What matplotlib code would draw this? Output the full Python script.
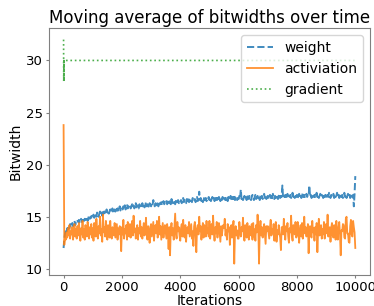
"""Moving average of bitwidths over time (weight / activation / gradient)."""

import numpy as np
import matplotlib
matplotlib.use("Agg")
import matplotlib.pyplot as plt

# iterations sampled every 25 steps, 0..10000
iters = np.arange(0, 10001, 25)

weight_bits = [
    12.0, 12.9, 13.4, 13.7, 13.5, 13.9, 13.8, 14.1, 13.9, 14.3, 14.0, 14.2, 14.4, 14.1, 14.3, 14.6, 14.2, 14.5, 14.4, 14.6,
    14.5, 14.7, 14.4, 14.6, 14.8, 14.5, 14.7, 14.9, 14.6, 14.8, 14.7, 15.0, 14.8, 14.6, 14.9, 15.1, 14.8, 15.0, 14.9, 15.2,
    15.0, 15.2, 14.9, 15.3, 15.1, 15.0, 15.4, 15.2, 15.0, 15.3, 15.5, 15.2, 15.4, 15.1, 15.6, 15.3, 15.5, 15.2, 15.4, 15.7,
    15.4, 15.6, 15.3, 15.5, 15.7, 15.4, 15.6, 15.8, 15.5, 15.3, 15.7, 15.5, 15.9, 15.6, 15.8, 15.5, 15.7, 16.0, 15.6, 15.8,
    15.9, 15.7, 16.0, 15.8, 16.1, 15.7, 15.9, 16.2, 15.8, 16.0, 15.9, 16.1, 15.8, 16.0, 16.2, 15.9, 16.1, 15.8, 16.0, 16.3,
    15.9, 16.1, 16.0, 15.8, 16.2, 16.0, 16.1, 15.9, 16.3, 16.0, 16.2, 15.9, 16.1, 16.4, 16.0, 16.2, 16.1, 15.9, 16.3, 16.1,
    16.0, 16.3, 16.1, 16.6, 16.2, 16.0, 16.3, 16.1, 16.4, 16.2, 16.0, 16.3, 16.5, 16.2, 16.4, 16.1, 16.3, 16.5, 16.2, 16.4,
    16.3, 16.5, 16.2, 16.4, 16.6, 16.3, 16.5, 16.2, 16.7, 16.4, 16.3, 16.6, 16.4, 16.2, 16.5, 16.7, 16.4, 16.6, 16.3, 16.5,
    16.4, 16.6, 16.3, 16.5, 16.8, 16.4, 16.6, 16.5, 16.3, 16.7, 16.5, 16.8, 16.4, 16.6, 16.5, 16.7, 16.4, 16.8, 16.6, 16.5,
    16.7, 16.4, 16.6, 16.9, 16.5, 16.7, 17.4, 16.6, 16.8, 16.5, 16.7, 16.4, 16.6, 16.9, 16.6, 16.8, 16.5, 16.7, 16.6, 16.9,
    16.6, 16.8, 16.5, 16.7, 16.9, 16.6, 16.8, 16.5, 16.7, 17.0, 16.6, 16.8, 16.5, 16.9, 16.7, 16.5, 16.8, 16.6, 16.9, 16.7,
    16.5, 16.8, 16.6, 16.9, 16.7, 16.5, 16.9, 16.7, 16.6, 17.0, 16.8, 16.5, 16.9, 16.7, 17.1, 16.6, 16.8, 16.9, 16.6, 16.8,
    16.7, 17.0, 16.8, 17.6, 16.7, 16.9, 16.6, 16.8, 17.0, 16.7, 16.9, 16.6, 17.1, 16.8, 16.7, 17.0, 16.8, 16.6, 16.9, 17.1,
    16.8, 16.6, 16.9, 17.1, 16.7, 16.9, 17.0, 16.7, 16.9, 16.6, 17.1, 16.8, 17.0, 16.7, 16.9, 17.2, 16.8, 17.0, 16.7, 16.9,
    17.0, 16.7, 16.9, 17.1, 16.8, 17.0, 16.7, 17.2, 16.9, 16.7, 17.0, 16.8, 17.1, 16.9, 16.7, 17.0, 17.2, 16.8, 17.0, 16.9,
    18.0, 16.8, 17.0, 16.9, 17.1, 16.7, 17.0, 17.2, 16.8, 17.0, 16.9, 17.1, 16.8, 17.0, 17.3, 16.9, 17.1, 16.8, 17.0, 16.9,
    17.1, 16.8, 17.0, 17.2, 16.9, 17.1, 16.8, 17.0, 17.3, 16.9, 17.1, 16.8, 17.0, 17.2, 16.9, 17.1, 17.0, 18.0, 16.9, 17.1,
    16.8, 17.0, 17.2, 16.9, 17.1, 16.8, 17.0, 17.3, 16.9, 17.1, 16.8, 17.0, 17.2, 16.9, 17.1, 17.0, 16.8, 17.2, 16.9, 17.1,
    17.0, 16.8, 17.1, 16.9, 17.3, 17.0, 16.8, 17.1, 16.9, 17.0, 17.2, 16.8, 17.1, 16.9, 17.0, 17.3, 16.9, 17.1, 16.8, 17.0,
    17.2, 16.9, 17.1, 16.8, 17.0, 17.3, 16.9, 17.1, 16.8, 17.0, 17.2, 16.9, 17.1, 16.8, 17.0, 17.2, 16.9, 17.1, 16.0, 17.2,
    18.9,
]

activation_bits = [
    23.8, 12.3, 13.1, 12.8, 13.5, 13.0, 13.9, 13.2, 14.2, 12.9, 13.6, 13.3, 14.0, 12.8, 13.7, 14.3, 13.1, 13.8, 12.9, 14.1,
    13.2, 14.4, 13.5, 12.7, 13.9, 13.3, 14.6, 13.0, 13.8, 12.8, 14.2, 13.4, 13.1, 14.5, 13.6, 12.9, 14.0, 13.3, 14.3, 13.0,
    13.9, 12.7, 14.4, 13.5, 13.1, 14.8, 13.6, 12.9, 14.1, 13.4, 15.0, 13.2, 13.8, 12.6, 15.2, 13.5, 14.0, 13.1, 14.6, 13.3,
    12.8, 14.2, 13.7, 13.0, 14.6, 13.4, 12.9, 14.0, 13.8, 13.2, 14.4, 13.0, 13.7, 14.3, 12.8, 13.9, 13.3, 14.1, 13.5, 11.7,
    14.0, 13.3, 14.7, 12.9, 13.8, 13.4, 14.2, 12.8, 14.5, 13.6, 13.1, 14.3, 13.0, 13.9, 14.6, 13.2, 15.1, 13.5, 13.9, 12.9,
    13.7, 14.2, 12.8, 13.9, 13.4, 14.6, 13.1, 14.0, 12.9, 13.8, 14.4, 13.2, 13.7, 14.9, 13.3, 12.8, 14.1, 13.5, 12.5, 14.0,
    14.3, 13.1, 13.8, 14.5, 12.7, 13.9, 14.2, 13.4, 14.6, 13.0, 13.7, 15.0, 13.3, 14.1, 12.8, 13.6, 14.4, 13.0, 13.8, 14.2,
    13.5, 12.9, 14.3, 13.6, 11.9, 14.0, 11.3, 13.8, 14.4, 13.2, 13.9, 12.8, 14.1, 15.3, 13.4, 12.9, 14.5, 13.6, 14.0, 13.2,
    12.7, 13.9, 14.3, 13.1, 14.7, 13.5, 13.0, 14.2, 12.6, 13.8, 14.0, 13.4, 14.5, 13.1, 13.7, 14.3, 12.9, 13.6, 12.2, 14.1,
    14.5, 13.2, 11.6, 13.9, 14.2, 13.3, 15.0, 13.6, 14.1, 12.8, 13.7, 14.4, 13.0, 14.2, 13.8, 13.1, 14.6, 13.4, 13.9, 13.1,
    14.6, 12.9, 13.8, 14.3, 13.3, 15.1, 13.6, 12.7, 14.0, 13.4, 14.5, 13.0, 13.9, 14.4, 13.5, 12.6, 14.1, 13.2, 13.8, 14.2,
    13.9, 14.8, 13.2, 13.7, 12.8, 14.3, 13.6, 14.0, 12.3, 13.5, 14.2, 13.0, 13.8, 14.6, 10.5, 13.4, 14.1, 13.2, 13.7, 12.9,
    12.9, 14.5, 13.7, 13.1, 14.0, 13.6, 14.9, 13.3, 12.7, 14.2, 13.8, 13.0, 14.4, 13.5, 12.8, 14.1, 13.6, 13.2, 14.3, 12.8,
    14.4, 13.1, 13.8, 12.7, 14.2, 13.5, 15.2, 13.9, 10.5, 13.7, 14.6, 13.2, 14.0, 13.0, 13.8, 14.3, 13.4, 12.4, 14.1, 13.6,
    14.1, 13.5, 12.9, 14.0, 14.7, 13.2, 13.8, 13.4, 14.3, 12.7, 13.9, 14.5, 12.6, 13.7, 13.3, 14.2, 13.4, 13.0, 11.8, 14.0,
    14.0, 13.3, 14.8, 13.6, 12.8, 14.1, 13.6, 14.4, 13.1, 12.5, 13.9, 13.5, 15.1, 13.2, 12.7, 14.2, 13.9, 13.3, 14.5, 13.0,
    13.2, 14.5, 13.6, 12.5, 13.8, 14.2, 13.1, 14.4, 12.9, 13.7, 15.0, 13.4, 14.0, 13.1, 13.6, 14.3, 11.5, 13.8, 14.1, 13.2,
    13.0, 14.6, 13.5, 13.9, 12.7, 14.0, 13.3, 14.4, 11.6, 13.6, 14.8, 13.2, 13.6, 14.2, 12.9, 13.8, 13.3, 14.5, 12.9, 14.0,
    14.3, 13.4, 15.2, 13.1, 13.7, 14.0, 12.6, 13.9, 14.4, 13.2, 13.0, 14.2, 13.9, 12.8, 14.6, 13.5, 12.8, 14.0, 14.5, 13.3,
    11.3, 13.7, 13.6, 14.3, 14.2, 13.0, 12.9, 14.8, 15.0, 13.4, 13.4, 12.6, 12.5, 14.1, 14.7, 13.3, 13.1, 14.6, 14.0, 13.5,
    12.0,
]

gradient_iters = [0, 5, 10, 15, 20, 10000]
gradient_bits = [32, 28, 30, 28, 30, 30]


def main() -> None:
    fig = plt.figure(figsize=(3.74, 3.06), dpi=100)
    ax = fig.add_axes([0.131, 0.101, 0.858, 0.807])

    ax.plot(iters, weight_bits, "--", color="C0", lw=1.4, alpha=0.85, label="weight")
    ax.plot(iters, activation_bits, "-", color="C1", lw=1.3, alpha=0.85, label="activiation")
    ax.plot(gradient_iters, gradient_bits, ":", color="C2", lw=1.2, alpha=0.85, label="gradient")

    ax.set_xlim(-500, 10500)
    ax.set_ylim(9.4, 33.1)
    ax.set_yticks([10, 15, 20, 25, 30])
    ax.set_xticks([0, 2000, 4000, 6000, 8000, 10000])
    for side in ax.spines.values():
        side.set_color("0.5")
    ax.tick_params(labelsize=9.5, length=2.5, pad=2, color="0.5")

    ax.set_title("Moving average of bitwidths over time", fontsize=12, pad=4)
    ax.set_xlabel("Iterations", fontsize=10, labelpad=0)
    ax.set_ylabel("Bitwidth", fontsize=10, labelpad=2)
    ax.legend(loc="upper right", fontsize=10, handlelength=1.9, borderaxespad=0.5)

    fig.savefig("out.png", dpi=100)
    plt.close(fig)


if __name__ == "__main__":
    main()
